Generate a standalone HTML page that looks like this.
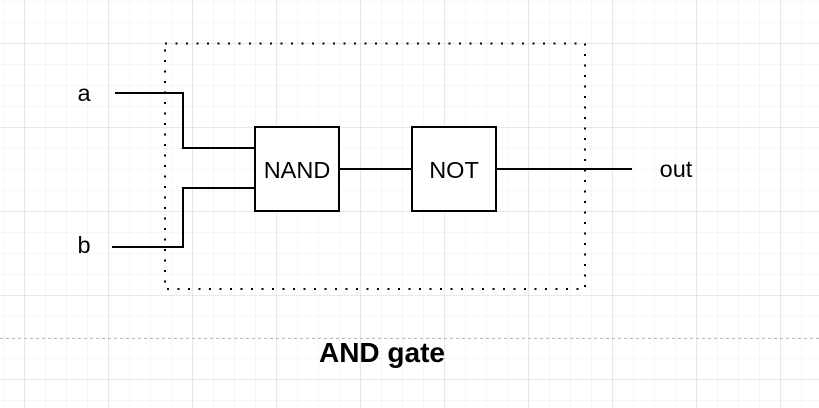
<!DOCTYPE html>
<html><head><style>
html,body{margin:0;padding:0;background:#fff;}
body{width:819px;height:408px;overflow:hidden;position:relative;
background-image:
linear-gradient(to right, rgba(0,0,0,0.06) 1px, transparent 1px),
linear-gradient(to bottom, rgba(0,0,0,0.06) 1px, transparent 1px),
linear-gradient(to right, rgba(0,0,0,0.035) 1px, transparent 1px),
linear-gradient(to bottom, rgba(0,0,0,0.035) 1px, transparent 1px);
background-size:84px 84px,84px 84px,21px 21px,21px 21px;
background-position:24px 43px,24px 43px,3px 1px,3px 1px;}
svg{position:absolute;left:0;top:0;}
text{font-family:"Liberation Sans",Arial,sans-serif;}
</style></head><body>
<svg width="819" height="408" viewBox="0 0 819 408">
<line x1="0" y1="338.5" x2="819" y2="338.5" stroke="#bbb" stroke-dasharray="3 3" stroke-width="1"/>
<rect x="165" y="43.5" width="420" height="245.5" fill="none" stroke="#000" stroke-width="2" stroke-dasharray="2 8.5"/>
<polyline points="115,93 183,93 183,148 255,148" fill="none" stroke="#000" stroke-width="2"/>
<polyline points="112,247 183,247 183,188 255,188" fill="none" stroke="#000" stroke-width="2"/>
<rect x="255" y="127" width="84" height="84" fill="#fff" stroke="#000" stroke-width="2"/>
<rect x="412" y="127" width="84" height="84" fill="#fff" stroke="#000" stroke-width="2"/>
<line x1="339" y1="169" x2="412" y2="169" stroke="#000" stroke-width="2"/>
<line x1="496" y1="169" x2="632" y2="169" stroke="#000" stroke-width="2"/>
<text x="297" y="178" font-size="23.5" text-anchor="middle">NAND</text>
<text x="454" y="178" font-size="23.5" text-anchor="middle">NOT</text>
<text x="84" y="101" font-size="23.5" text-anchor="middle">a</text>
<text x="84" y="253" font-size="23.5" text-anchor="middle">b</text>
<text x="676" y="177" font-size="23.5" text-anchor="middle">out</text>
<text x="382" y="362" font-size="28" font-weight="bold" text-anchor="middle">AND gate</text>
</svg>
</body></html>
